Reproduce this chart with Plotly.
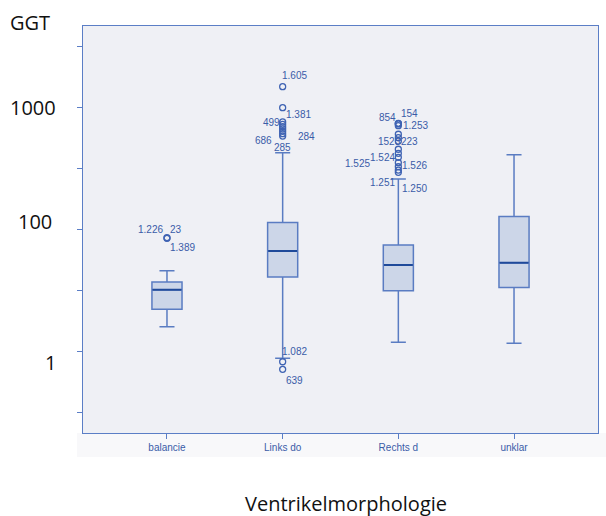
import math
import plotly.graph_objects as go

# ---- data ----
categories = ["balancie", "Links do", "Rechts d", "unklar"]
lower_fence = [16.1, 8.87, 12.0, 11.8]
q1 = [22.4, 41.2, 31.8, 33.7]
median = [32.4, 67.3, 51.7, 53.9]
q3 = [37.5, 115, 75.4, 129]
upper_fence = [46.4, 430, 262, 414]

outliers = {
    "balancie": [85.5, 86.5],
    "Links do": [1496, 1006, 768, 735, 703, 673, 644, 616, 589, 8.32, 7.21],
    "Rechts d": [749, 745, 740, 716, 609, 571, 536, 459, 425, 394, 356, 330, 310, 297],
    "unklar": [],
}

# outlier case labels: (category, outlier value, text)
case_labels = [
    ("balancie", 85.5, "1.226"), ("balancie", 85.5, "23"), ("balancie", 85.5, "1.389"),
    ("Links do", 1496, "1.605"), ("Links do", 1006, "1.381"), ("Links do", 768, "499"),
    ("Links do", 589, "686"), ("Links do", 589, "284"), ("Links do", 589, "285"),
    ("Links do", 8.32, "1.082"), ("Links do", 7.21, "639"),
    ("Rechts d", 749, "854"), ("Rechts d", 749, "154"), ("Rechts d", 716, "1.253"),
    ("Rechts d", 536, "1523"), ("Rechts d", 536, "223"), ("Rechts d", 394, "1.524"),
    ("Rechts d", 356, "1.525"), ("Rechts d", 330, "1.526"), ("Rechts d", 297, "1.251"),
    ("Rechts d", 297, "1.250"),
]

y_tick_labels = ["1000", "100", "1"]
y_title = "GGT"
x_title = "Ventrikelmorphologie"

# ---- layout/styling constants (pixel offsets of labels relative to their point) ----
label_offsets = [
    (-16, 9), (9, 9), (16, -9),
    (12, 11), (16, -7), (-11, -1),
    (-19, -4), (24, 0), (0, -11),
    (12, 10), (12, -11),
    (-11, 6), (11, 10), (17, 0),
    (-9, 0), (11, 0), (-16, 0),
    (-41, -1), (16, 1), (-16, -10),
    (16, -16),
]
ytick_label_pos = [(-0.0485, 3.0), (-0.0563, 2.068), (-0.0485, 0.912)]

BLUE_TXT = "#3a5ca8"
BOX_LINE = "#5a7cc2"
MED_LINE = "#1f4a9a"
FILL = "#ccd6e8"
BG = "#eff0f5"
FRAME = "#5b7ec6"

fig = go.Figure()

fig.add_trace(go.Box(
    x=categories, q1=q1, median=median, q3=q3,
    lowerfence=lower_fence, upperfence=upper_fence,
    fillcolor=FILL, line=dict(color=BOX_LINE, width=1.5),
    width=0.26, whiskerwidth=0.5, boxpoints=False, hoverinfo="skip",
))
# darker median line overlay
fig.add_trace(go.Box(
    x=categories, q1=median, median=median, q3=median,
    lowerfence=median, upperfence=median,
    fillcolor="rgba(0,0,0,0)", line=dict(color=MED_LINE, width=2),
    width=0.25, whiskerwidth=0, boxpoints=False, hoverinfo="skip",
))

ox, oy = [], []
for c in categories:
    for v in outliers[c]:
        ox.append(c)
        oy.append(v)
fig.add_trace(go.Scatter(
    x=ox, y=oy, mode="markers",
    marker=dict(symbol="circle-open", size=6, color="#3f63b3", line=dict(width=1.3)),
    hoverinfo="skip",
))

annotations = []
for (c, v, t), (dx, dy) in zip(case_labels, label_offsets):
    annotations.append(dict(
        x=c, y=math.log10(v), xref="x", yref="y", text=t,
        showarrow=False, xshift=dx, yshift=dy,
        font=dict(family="Liberation Sans, Arial", size=10, color=BLUE_TXT),
    ))
for t, (px, py) in zip(y_tick_labels, ytick_label_pos):
    annotations.append(dict(
        x=px, y=py, xref="paper", yref="y", text=t, showarrow=False,
        xanchor="right", yanchor="middle",
        font=dict(family="Open Sans", size=20, color="#111111"),
    ))
annotations.append(dict(
    x=-0.103, y=1.0098, xref="paper", yref="paper", text=y_title, showarrow=False,
    xanchor="center", yanchor="middle",
    font=dict(family="Open Sans", size=20, color="#111111"),
))
annotations.append(dict(
    x=0.5107, y=-0.172, xref="paper", yref="paper", text=x_title, showarrow=False,
    xanchor="center", yanchor="middle",
    font=dict(family="Open Sans", size=20, color="#111111"),
))

fig.update_layout(
    width=606, height=516,
    margin=dict(l=83, r=8, t=26, b=83),
    paper_bgcolor="white", plot_bgcolor=BG,
    showlegend=False,
    annotations=annotations,
    shapes=[dict(type="rect", xref="paper", yref="paper",
                 x0=-0.0117, x1=1.02, y0=-0.059, y1=0,
                 fillcolor="#f8f8fa", line=dict(width=0), layer="below")],
    xaxis=dict(
        type="category", categoryorder="array", categoryarray=categories,
        range=[-0.726, 3.726],
        showline=True, linecolor=FRAME, linewidth=1.3, mirror=True,
        ticks="outside", ticklen=5, tickcolor=FRAME, tickwidth=1.3,
        tickfont=dict(family="Liberation Sans, Arial", size=10, color=BLUE_TXT),
        showgrid=False, zeroline=False,
    ),
    yaxis=dict(
        type="log", range=[0.336, 3.672],
        tickvals=[10 ** (k / 2) for k in range(1, 8)],
        showticklabels=False,
        showline=True, linecolor=FRAME, linewidth=1.3, mirror=True,
        ticks="outside", ticklen=5, tickcolor=FRAME, tickwidth=1.3,
        showgrid=False, zeroline=False,
    ),
)

fig.write_html("out.html")
